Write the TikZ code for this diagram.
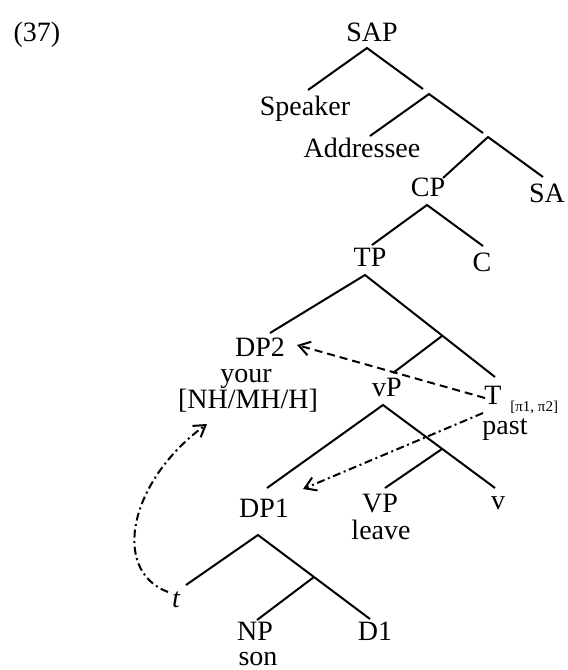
\documentclass[tikz,border=0pt]{standalone}
\usepackage{fontspec}
\setmainfont{Liberation Serif}
\usetikzlibrary{arrows.meta}
\tikzset{
  lbl/.style={inner sep=0pt, anchor=base, font=\fontsize{14}{16}\selectfont},
  sublbl/.style={inner sep=0pt, anchor=base west, font=\fontsize{7.5}{9}\selectfont},
  branch/.style={line width=1pt},
  movedash/.style={line width=1pt, dash pattern=on 4pt off 2.5pt, -{Straight Barb[length=5.5pt,width=7pt]}},
  movedashdot/.style={line width=1pt, dash pattern=on 4pt off 1.8pt on 1pt off 1.8pt, -{Straight Barb[length=5.5pt,width=7pt]}}
}
\begin{document}
\begin{tikzpicture}[x=0.5pt,y=-0.5pt]
\useasboundingbox (0,0) rectangle (568,670);
% labels
\node[lbl] (ex) at (37,41) {(37)};
\node[lbl] (SAP) at (372,41) {SAP};
\node[lbl] (Speaker) at (305,115) {Speaker};
\node[lbl] (Addressee) at (362,157) {Addressee};
\node[lbl] (CP) at (428,196) {CP};
\node[lbl] (SA) at (547,202) {SA};
\node[lbl] (TP) at (370,266) {TP};
\node[lbl] (C) at (482,271) {C};
\node[lbl] (DP2) at (260,356) {DP2};
\node[lbl] (your) at (246,382) {your};
\node[lbl] (feat) at (248,408) {[NH/MH/H]};
\node[lbl] (vP) at (387,396) {vP};
\node[lbl] (T) at (493,404) {T};
\node[sublbl] (Tsub) at (510,411) {[π1, π2]};
\node[lbl] (past) at (505,434) {past};
\node[lbl] (DP1) at (264,517) {DP1};
\node[lbl] (VP) at (380,512) {VP};
\node[lbl] (leave) at (381,539) {leave};
\node[lbl] (v) at (498,509) {v};
\node[lbl] (t) at (176,607) {\itshape t};
\node[lbl] (NP) at (255,640) {NP};
\node[lbl] (D1) at (375,640) {D1};
\node[lbl] (son) at (258,665) {son};
% branch points
\coordinate (a1) at (367,48);  \coordinate (a1l) at (308,90);  \coordinate (a1r) at (423,89);
\coordinate (a2) at (429,94);  \coordinate (a2l) at (370,136); \coordinate (a2r) at (483,133);
\coordinate (a3) at (488,137); \coordinate (a3l) at (443,178); \coordinate (a3r) at (543,177);
\coordinate (a4) at (427,205); \coordinate (a4l) at (372,245); \coordinate (a4r) at (483,246);
\coordinate (a5) at (365,275); \coordinate (a5l) at (270,333); \coordinate (a5r) at (495,377);
\coordinate (a6) at (442,336); \coordinate (a6l) at (393,373);
\coordinate (a7) at (383,405); \coordinate (a7l) at (267,488); \coordinate (a7r) at (495,488);
\coordinate (a8) at (442,449); \coordinate (a8l) at (385,488);
\coordinate (a9) at (258,535); \coordinate (a9l) at (186,585); \coordinate (a9r) at (370,619);
\coordinate (a10) at (314,577); \coordinate (a10l) at (257,620);
% branches
\draw[branch] (a1l) -- (a1) -- (a1r);
\draw[branch] (a2l) -- (a2) -- (a2r);
\draw[branch] (a3l) -- (a3) -- (a3r);
\draw[branch] (a4l) -- (a4) -- (a4r);
\draw[branch] (a5l) -- (a5) -- (a5r);
\draw[branch] (a6) -- (a6l);
\draw[branch] (a7l) -- (a7) -- (a7r);
\draw[branch] (a8) -- (a8l);
\draw[branch] (a9l) -- (a9) -- (a9r);
\draw[branch] (a10) -- (a10l);
% movement arrows
\coordinate (m1s) at (485,398); \coordinate (m1e) at (297,345);
\coordinate (m2s) at (483,413); \coordinate (m2e) at (303,489);
\coordinate (m3s) at (168,592); \coordinate (m3e) at (207,424);
\draw[movedash] (m1s) -- (m1e);
\draw[movedashdot] (m2s) -- (m2e);
\draw[movedashdot] (m3s) .. controls (110,570) and (130,480) .. (m3e);
\end{tikzpicture}
\end{document}
